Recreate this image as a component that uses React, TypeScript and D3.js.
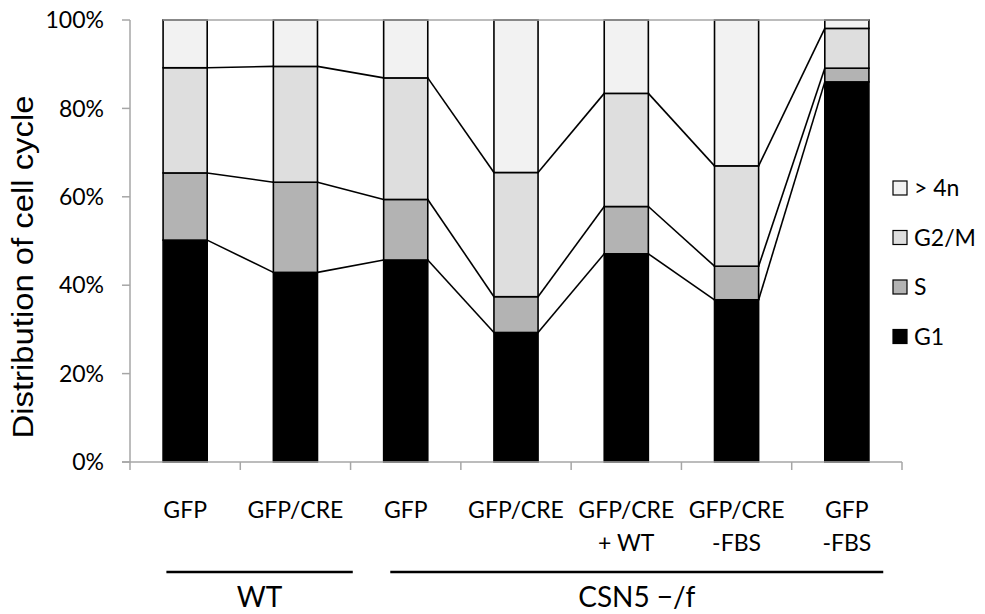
import React from 'react';
import * as d3 from 'd3';

// sample labels (first line / second line under each bar)
const categories = ['GFP', 'GFP/CRE', 'GFP', 'GFP/CRE', 'GFP/CRE', 'GFP/CRE', 'GFP'];
const subLabels = ['', '', '', '', '+ WT', '-FBS', '-FBS'];

// percentage of cells in each phase
const g1 = [50.2, 42.9, 45.7, 29.3, 47.1, 36.7, 86.0];
const sPhase = [15.2, 20.4, 13.7, 8.1, 10.7, 7.6, 3.1];
const g2m = [23.8, 26.2, 27.5, 28.1, 25.6, 22.7, 9.0];
const over4n = [10.8, 10.5, 13.1, 34.5, 16.6, 33.0, 1.9];

const phases = ['G1', 'S', 'G2/M', '> 4n'];
const phaseColors = ['#000000', '#b3b3b3', '#dedede', '#f2f2f2'];
const yTicks = [0, 20, 40, 60, 80, 100];

// genotype groups, span given in category units
const groups = [
  { label: 'WT', from: 0.33, to: 2.02 },
  { label: 'CSN5 \u2212/f', from: 2.36, to: 6.83 },
];

const W = 985;
const H = 614;
const left = 130;
const right = 902;
const top = 20;
const bottom = 462;

const App = () => {
  const rows = categories.map((c, i) => ({
    i: String(i),
    G1: g1[i],
    S: sPhase[i],
    'G2/M': g2m[i],
    '> 4n': over4n[i],
  }));

  const stack = d3.stack<any>().keys(phases);
  const series = stack(rows);

  const x = d3.scaleBand()
    .domain(rows.map(d => d.i))
    .range([left, right])
    .paddingInner(0.6)
    .paddingOuter(0.3);

  const y = d3.scaleLinear().domain([0, 100]).range([bottom, top]);
  const step = x.step();
  const bw = x.bandwidth();
  const unit = d3.scaleLinear().domain([0, categories.length]).range([left, right]);

  const labelFont = 'Lato, "Noto Sans", sans-serif';

  return (
    <svg width={W} height={H} style={{ position: 'absolute', left: 0, top: 0, background: '#fff' }}>
      {/* bars */}
      {series.map((s, k) => (
        <g key={s.key} fill={phaseColors[k]} stroke="#000" strokeWidth={1.6}>
          {s.map((d, j) => (
            <rect
              key={j}
              x={x(String(j))}
              y={y(d[1])}
              width={bw}
              height={y(d[0]) - y(d[1])}
            />
          ))}
        </g>
      ))}

      {/* series lines between bars */}
      {series.slice(0, 3).map(s => (
        <g key={'l' + s.key} stroke="#000" strokeWidth={1.6}>
          {s.slice(0, -1).map((d, j) => (
            <line
              key={j}
              x1={(x(String(j)) as number) + bw}
              y1={y(d[1])}
              x2={x(String(j + 1)) as number}
              y2={y(s[j + 1][1])}
            />
          ))}
        </g>
      ))}

      {/* top edge */}
      <line
        x1={x('0')}
        x2={(x(String(categories.length - 1)) as number) + bw}
        y1={y(100)}
        y2={y(100)}
        stroke="#a6a6a6"
        strokeWidth={1.5}
      />

      {/* axes */}
      <g stroke="#a6a6a6" strokeWidth={1.5}>
        <line x1={left} x2={left} y1={top} y2={bottom} />
        {yTicks.map(t => (
          <line key={t} x1={left - 8} x2={left} y1={y(t)} y2={y(t)} />
        ))}
        <line x1={left - 8} x2={right} y1={bottom} y2={bottom} />
        {d3.range(categories.length + 1).map(k => (
          <line key={k} x1={left + k * step} x2={left + k * step} y1={bottom} y2={bottom + 8} />
        ))}
      </g>
      {yTicks.map(t => (
        <text
          key={t}
          x={104}
          y={y(t)}
          dy="0.36em"
          textAnchor="end"
          fontFamily={labelFont}
          fontSize={23}
          fill="#000"
        >
          {t}%
        </text>
      ))}
      <text
        transform={`translate(33,267) rotate(-90)`}
        textAnchor="middle"
        fontFamily='"Liberation Sans", Arial, sans-serif'
        fontSize={29}
        textLength={343}
        lengthAdjust="spacingAndGlyphs"
        fill="#000"
      >
        Distribution of cell cycle
      </text>

      {/* category labels */}
      {categories.map((c, j) => {
        const cx = (x(String(j)) as number) + bw / 2;
        return (
          <g key={j} fontFamily={labelFont} fontSize={23} textAnchor="middle">
            <text x={cx} y={518}>{c}</text>
            {subLabels[j] && <text x={cx} y={551}>{subLabels[j]}</text>}
          </g>
        );
      })}

      {/* group brackets */}
      {groups.map(g => (
        <g key={g.label}>
          <line x1={unit(g.from)} x2={unit(g.to)} y1={572} y2={572} stroke="#000" strokeWidth={2.5} />
          <text
            x={(unit(g.from) + unit(g.to)) / 2}
            y={607}
            textAnchor="middle"
            fontFamily={labelFont}
            fontSize={28}
          >
            {g.label}
          </text>
        </g>
      ))}

      {/* legend, top entry is the last phase */}
      {phases.slice().reverse().map((p, k) => {
        const ci = phases.length - 1 - k;
        const cy = 188 + k * 49.5;
        return (
          <g key={p}>
            <rect x={893} y={cy - 7} width={14} height={14} fill={phaseColors[ci]} stroke="#000" strokeWidth={1.2} />
            <text x={914} y={cy} dy="0.36em" fontFamily={labelFont} fontSize={23}>{p}</text>
          </g>
        );
      })}
    </svg>
  );
};

export default App;
